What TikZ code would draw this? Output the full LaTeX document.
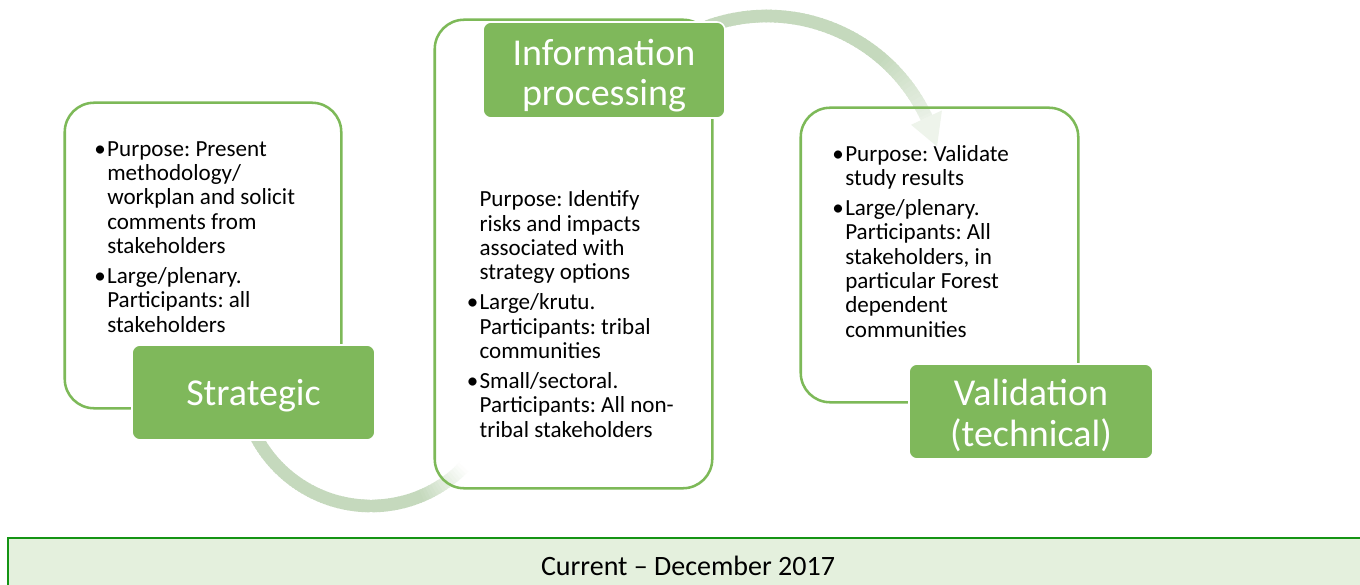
\documentclass[tikz,border=0pt]{standalone}
\usepackage{fontspec}
\setmainfont{Carlito}
\usetikzlibrary{fit}
\frenchspacing
\definecolor{labfill}{HTML}{7FB85B}
\definecolor{brd}{HTML}{7DB958}
\definecolor{arcc}{HTML}{C5D9BD}
\definecolor{barfill}{HTML}{E4F0DD}
\definecolor{barline}{HTML}{149414}
\newcommand\mybul{\llap{•\kern1pt}}
\tikzset{
  boxfill/.style={fill=white, inner sep=0pt, rounded corners=22pt},
  boxline/.style={draw=brd, line width=1.9pt, rounded corners=22pt},
  labbox/.style={draw=white, line width=1.2pt, fill=labfill, rounded corners=6pt, inner sep=0pt},
  labtext/.style={anchor=base, inner sep=0pt, text=white, font=\fontsize{28.5}{26.25}\selectfont},
  body/.style={anchor=base west, inner sep=0pt, font=\fontsize{17.3}{18}\selectfont, text=black},
  barbox/.style={draw=barline, line width=1.5pt, fill=barfill, inner sep=0pt},
  band/.style={line width=9.5pt, line cap=butt},
}
\begin{document}
\begin{tikzpicture}[x=0.75pt, y=-0.75pt]
\useasboundingbox (0,0) rectangle (1360,585);
% box fills
\node[boxfill, fit={(65,103) (341,408)}] (box1) {};
\node[boxfill, fit={(435,20) (712,488)}] (box2) {};
\node[boxfill, fit={(801,108) (1078,402)}] (box3) {};
% arc 1 (Strategic -> Information processing)
\foreach \i in {0,...,80}{
  \pgfmathsetmacro\aa{160-1.5*\i}
  \pgfmathsetmacro\bb{\aa-2}
  \pgfmathtruncatemacro\p{max(0,min(100,(\aa-45)/23*100))}
  \pgfmathsetmacro\xa{371+130*cos(\aa)}
  \pgfmathsetmacro\ya{376+130*sin(\aa)}
  \pgfmathsetmacro\xb{371+130*cos(\bb)}
  \pgfmathsetmacro\yb{376+130*sin(\bb)}
  \draw[band, draw=arcc!\p!white] (\xa,\ya) -- (\xb,\yb);
}
% arc 2 (Information processing -> Validation)
\foreach \i in {0,...,57}{
  \pgfmathsetmacro\aa{-110+1.5*\i}
  \pgfmathsetmacro\bb{min(\aa+2,-25)}
  \pgfmathtruncatemacro\p{max(35,min(100,100-(\aa+50)/25*65))}
  \pgfmathsetmacro\xa{767+176*cos(\aa)}
  \pgfmathsetmacro\ya{192+176*sin(\aa)}
  \pgfmathsetmacro\xb{767+176*cos(\bb)}
  \pgfmathsetmacro\yb{192+176*sin(\bb)}
  \draw[band, draw=arcc!\p!white] (\xa,\ya) -- (\xb,\yb);
}
\coordinate (hl) at ({767+193*cos(-25)},{192+193*sin(-25)});
\coordinate (hr) at ({767+159*cos(-25)},{192+159*sin(-25)});
\coordinate (ht) at ({767+176*cos(-15)},{192+176*sin(-15)});
\fill[arcc!30!white] (hl) -- (ht) -- (hr) -- cycle;
% box borders
\draw[boxline] (box1.north west) rectangle (box1.south east);
\draw[boxline] (box2.north west) rectangle (box2.south east);
\draw[boxline] (box3.north west) rectangle (box3.south east);
% labels
\node[labbox, fit={(132,345) (375,440)}] (lab1) {};
\node[labbox, fit={(483,22) (725,118)}] (lab2) {};
\node[labbox, fit={(909,364) (1153,459)}] (lab3) {};
\node[labtext] (lt1) at (253.5,405) {Strategic};
\node[labtext] (lt2a) at (604,65) {Information};
\node[labtext] (lt2b) at (604,106) {processing};
\node[labtext] (lt3a) at (1031,405) {Validation};
\node[labtext] (lt3b) at (1031,446) {(technical)};
% box 1 text
\node[body] (t1a) at (107,156) {\mybul Purpose: Present};
\node[body] (t1b) at (107,180.4) {methodology/};
\node[body] (t1c) at (107,204.8) {workplan and solicit};
\node[body] (t1d) at (107,229.2) {comments from};
\node[body] (t1e) at (107,253.6) {stakeholders};
\node[body] (t1f) at (107,283.5) {\mybul Large/plenary.};
\node[body] (t1g) at (107,307.9) {Participants: all};
\node[body] (t1h) at (107,332.3) {stakeholders};
% box 2 text
\node[body] (t2a) at (479.3,206.7) {Purpose: Identify};
\node[body] (t2b) at (479.3,231.1) {risks and impacts};
\node[body] (t2c) at (479.3,255.5) {associated with};
\node[body] (t2d) at (479.3,279.9) {strategy options};
\node[body] (t2e) at (479.3,309.8) {\mybul Large/krutu.};
\node[body] (t2f) at (479.3,334.2) {Participants: tribal};
\node[body] (t2g) at (479.3,358.6) {communities};
\node[body] (t2h) at (479.3,388.5) {\mybul Small/sectoral.};
\node[body] (t2i) at (479.3,412.9) {Participants: All non-};
\node[body] (t2j) at (479.3,437.3) {tribal stakeholders};
% box 3 text
\node[body] (t3a) at (845,161) {\mybul Purpose: Validate};
\node[body] (t3b) at (845,185.4) {study results};
\node[body] (t3c) at (845,215.3) {\mybul Large/plenary.};
\node[body] (t3d) at (845,239.7) {Participants: All};
\node[body] (t3e) at (845,264.1) {stakeholders, in};
\node[body] (t3f) at (845,288.5) {particular Forest};
\node[body] (t3g) at (845,312.9) {dependent};
\node[body] (t3h) at (845,337.3) {communities};
% bottom bar
\node[barbox, fit={(8,538) (1372,600)}] (bar) {};
\node[anchor=base, inner sep=0pt, font=\fontsize{21}{24}\selectfont] (bartext) at (688,575) {Current – December 2017};
\end{tikzpicture}
\end{document}
